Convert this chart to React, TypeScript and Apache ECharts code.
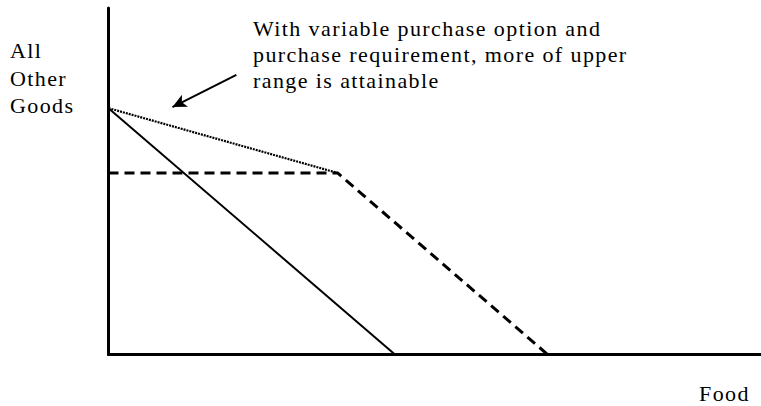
import React, { useEffect, useRef } from "react";
import * as echarts from "echarts";

// Axis titles and annotation
const yLabelLines = ["All", "Other", "Goods"];
const xLabel = "Food";
const noteLines = [
  "With variable purchase option and",
  "purchase requirement, more of upper",
  "range is attainable",
];

// Budget lines (x = Food, y = All Other Goods)
const solidLine = [
  [0, 71.1],
  [43.9, 0],
];
const dottedLine = [
  [0, 71.1],
  [35.1, 52.4],
];
const dashedLine = [
  [0, 52.4],
  [35.1, 52.4],
  [67.3, 0],
];
const arrowFrom = [19.6, 80.7];
const arrowTo = [9.8, 71.4];
const xRange = [0, 100];
const yRange = [0, 100];

const FONT = '22px "Liberation Serif", "Times New Roman", serif';

export default function App() {
  const ref = useRef<HTMLDivElement>(null);
  useEffect(() => {
    if (!ref.current) return;
    const chart = echarts.init(ref.current, undefined, { renderer: "svg" });
    const axisCommon = {
      type: "value" as const,
      axisLine: { show: true, onZero: false, lineStyle: { color: "#000", width: 3 } },
      axisTick: { show: false },
      axisLabel: { show: false },
      splitLine: { show: false },
    };
    chart.setOption({
      animation: false,
      backgroundColor: "#fff",
      grid: { left: 108.5, right: 0, top: 8, bottom: 51.5, containLabel: false },
      xAxis: { ...axisCommon, min: xRange[0], max: xRange[1] },
      yAxis: { ...axisCommon, min: yRange[0], max: yRange[1] },
      series: [
        {
          type: "line",
          data: solidLine,
          symbol: "none",
          lineStyle: { color: "#000", width: 2 },
        },
        {
          type: "line",
          data: dottedLine,
          symbol: "none",
          lineStyle: { color: "#000", width: 2.2, type: [2, 1] },
        },
        {
          type: "line",
          data: dashedLine,
          symbol: "none",
          lineStyle: { color: "#000", width: 3, type: [10, 6] },
        },
        {
          type: "line",
          data: [],
          markLine: {
            silent: true,
            symbol: ["none", "arrow"],
            symbolSize: [10, 14],
            label: { show: false },
            lineStyle: { color: "#000", width: 2, type: "solid" },
            data: [[{ coord: arrowFrom }, { coord: arrowTo }]],
          },
        },
      ],
      graphic: [
        {
          type: "text",
          x: 10,
          y: 37,
          style: {
            text: yLabelLines.join("\n"),
            font: FONT,
            lineHeight: 27.5,
            fill: "#000",
            textAlign: "left",
            textVerticalAlign: "top",
          },
        },
        {
          type: "text",
          x: 253,
          y: 15,
          style: {
            text: noteLines.join("\n"),
            font: FONT,
            lineHeight: 26,
            fill: "#000",
            textAlign: "left",
            textVerticalAlign: "top",
          },
        },
        {
          type: "text",
          x: 699,
          y: 382,
          style: {
            text: xLabel,
            font: FONT,
            lineHeight: 22,
            fill: "#000",
            textAlign: "left",
            textVerticalAlign: "top",
          },
        },
      ],
    });
    return () => chart.dispose();
  }, []);
  return (
    <>
      <style>{"#chart text{letter-spacing:1.4px;}"}</style>
      <div
        id="chart"
        ref={ref}
        style={{ position: "fixed", left: 0, top: 0, width: 761, height: 406, background: "#fff" }}
      />
    </>
  );
}
